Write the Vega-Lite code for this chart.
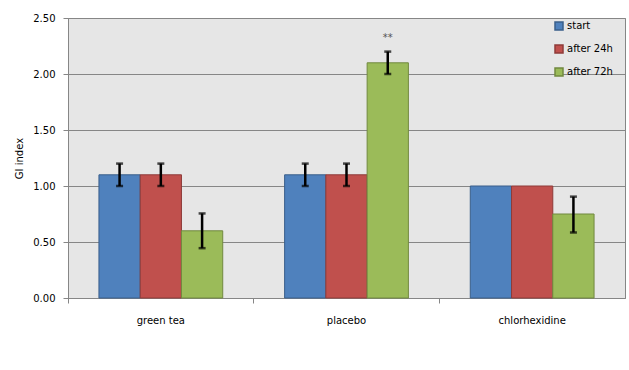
{
  "$schema": "https://vega.github.io/schema/vega-lite/v6.json",
  "width": 557,
  "height": 280,
  "autosize": "none",
  "padding": {"left": 68, "top": 18, "right": 4, "bottom": 72},
  "background": "white",
  "config": {
    "view": {"fill": "#E6E6E6", "stroke": "#868686", "strokeWidth": 1},
    "font": "DejaVu Sans",
    "axis": {
      "labelFont": "DejaVu Sans",
      "labelFontSize": 10,
      "labelColor": "#000000",
      "domainColor": "#868686",
      "tickColor": "#868686",
      "gridColor": "#868686",
      "gridOpacity": 1,
      "titleFont": "DejaVu Sans"
    }
  },
  "data": {
    "values": [
      {"group": "green tea", "time": "start", "value": 1.1, "lo": 1.0, "hi": 1.2, "sig": null},
      {"group": "green tea", "time": "after 24h", "value": 1.1, "lo": 1.0, "hi": 1.2, "sig": null},
      {"group": "green tea", "time": "after 72h", "value": 0.6, "lo": 0.445, "hi": 0.755, "sig": null},
      {"group": "placebo", "time": "start", "value": 1.1, "lo": 1.0, "hi": 1.2, "sig": null},
      {"group": "placebo", "time": "after 24h", "value": 1.1, "lo": 1.0, "hi": 1.2, "sig": null},
      {"group": "placebo", "time": "after 72h", "value": 2.1, "lo": 2.0, "hi": 2.2, "sig": "**"},
      {"group": "chlorhexidine", "time": "start", "value": 1.0, "lo": null, "hi": null, "sig": null},
      {"group": "chlorhexidine", "time": "after 24h", "value": 1.0, "lo": null, "hi": null, "sig": null},
      {"group": "chlorhexidine", "time": "after 72h", "value": 0.75, "lo": 0.585, "hi": 0.905, "sig": null}
    ]
  },
  "resolve": {"axis": {"x": "independent"}},
  "layer": [
    {
      "mark": {"type": "bar", "strokeWidth": 1},
      "encoding": {
        "x": {
          "field": "group", "type": "nominal",
          "sort": ["green tea", "placebo", "chlorhexidine"],
          "scale": {"paddingInner": 0, "paddingOuter": 0},
          "axis": {"title": null, "labelAngle": 0, "ticks": false, "domain": true, "labelPadding": 17, "grid": false, "orient": "bottom"}
        },
        "xOffset": {
          "field": "time", "type": "nominal",
          "sort": ["start", "after 24h", "after 72h"],
          "scale": {"paddingInner": 0, "paddingOuter": 0.75}
        },
        "y": {
          "field": "value", "type": "quantitative",
          "scale": {"domain": [0, 2.5], "nice": false},
          "axis": {"title": "GI index", "values": [0, 0.5, 1, 1.5, 2, 2.5], "format": ".2f", "grid": true, "tickSize": 5, "labelPadding": 8, "titleFontSize": 10, "titleFontWeight": "normal", "titlePadding": 8, "titleColor": "#000000"}
        },
        "color": {
          "field": "time", "type": "nominal",
          "sort": ["start", "after 24h", "after 72h"],
          "scale": {"domain": ["start", "after 24h", "after 72h"], "range": ["#4F81BD", "#C0504D", "#9BBB59"]},
          "legend": {"title": null, "orient": "none", "legendX": 486, "legendY": 3, "symbolType": "square", "symbolSize": 64, "labelFontSize": 10, "labelColor": "#000000", "rowPadding": 9, "padding": 0, "labelOffset": 3}
        },
        "stroke": {
          "field": "time", "type": "nominal",
          "sort": ["start", "after 24h", "after 72h"],
          "scale": {"domain": ["start", "after 24h", "after 72h"], "range": ["#3A5F8B", "#8E3B39", "#71893F"]},
          "legend": {"title": null, "orient": "none", "legendX": 486, "legendY": 3, "symbolType": "square", "symbolSize": 64, "labelFontSize": 10, "labelColor": "#000000", "rowPadding": 9, "padding": 0, "labelOffset": 3}
        }
      }
    },
    {
      "transform": [{"filter": "datum.lo != null"}],
      "mark": {"type": "rule", "color": "#000000", "strokeWidth": 2.5},
      "encoding": {
        "x": {
          "field": "group", "type": "nominal",
          "sort": ["green tea", "placebo", "chlorhexidine"],
          "axis": {"title": null, "labels": false, "ticks": true, "tickSize": 5, "bandPosition": 0, "domain": false, "grid": false, "orient": "bottom"}
        },
        "xOffset": {"field": "time", "type": "nominal", "sort": ["start", "after 24h", "after 72h"]},
        "y": {"field": "lo", "type": "quantitative", "title": "GI index"},
        "y2": {"field": "hi"}
      }
    },
    {
      "transform": [{"filter": "datum.lo != null"}],
      "mark": {"type": "tick", "color": "#000000", "orient": "horizontal", "size": 7, "thickness": 2.5},
      "encoding": {
        "x": {"field": "group", "type": "nominal", "sort": ["green tea", "placebo", "chlorhexidine"], "axis": null},
        "xOffset": {"field": "time", "type": "nominal", "sort": ["start", "after 24h", "after 72h"]},
        "y": {"field": "lo", "type": "quantitative", "title": "GI index"}
      }
    },
    {
      "transform": [{"filter": "datum.lo != null"}],
      "mark": {"type": "tick", "color": "#000000", "orient": "horizontal", "size": 7, "thickness": 2.5},
      "encoding": {
        "x": {"field": "group", "type": "nominal", "sort": ["green tea", "placebo", "chlorhexidine"], "axis": null},
        "xOffset": {"field": "time", "type": "nominal", "sort": ["start", "after 24h", "after 72h"]},
        "y": {"field": "hi", "type": "quantitative", "title": "GI index"}
      }
    },
    {
      "transform": [{"filter": "datum.sig != null"}],
      "mark": {"type": "text", "color": "#555555", "fontSize": 10, "baseline": "middle", "dy": -14},
      "encoding": {
        "x": {"field": "group", "type": "nominal", "sort": ["green tea", "placebo", "chlorhexidine"], "axis": null},
        "xOffset": {"field": "time", "type": "nominal", "sort": ["start", "after 24h", "after 72h"]},
        "y": {"field": "hi", "type": "quantitative", "title": "GI index"},
        "text": {"field": "sig"}
      }
    }
  ]
}
